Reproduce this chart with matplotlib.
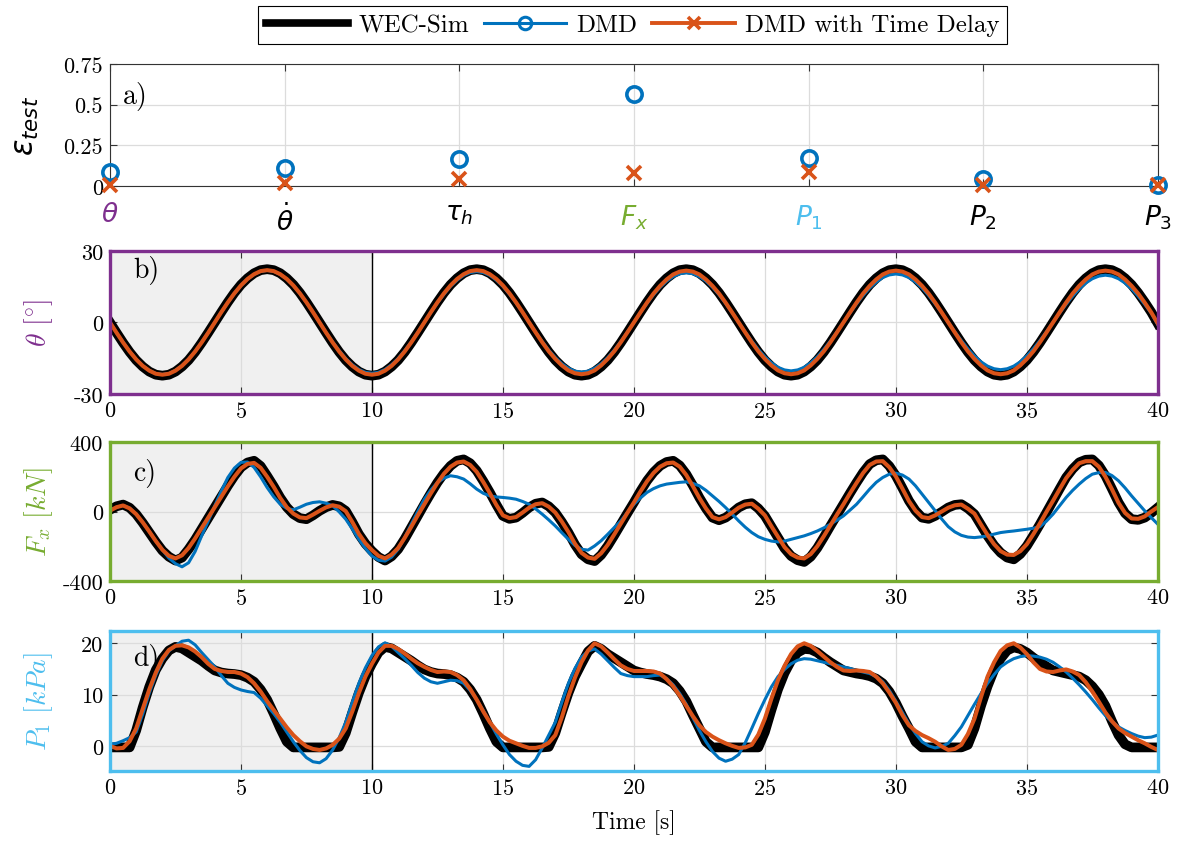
import numpy as np
import matplotlib
matplotlib.use("Agg")
import matplotlib.pyplot as plt
from matplotlib.lines import Line2D

plt.rcParams["font.family"] = ["cmr10", "DejaVu Serif"]
plt.rcParams["mathtext.fontset"] = "cm"
plt.rcParams["axes.unicode_minus"] = False
plt.rcParams["axes.formatter.use_mathtext"] = True

# ---- data ----
states = [r"$\theta$", r"$\dot{\theta}$", r"$\tau_h$", r"$F_x$", r"$P_1$", r"$P_2$", r"$P_3$"]
state_colors = ["#7E2F8E", "black", "black", "#77AC30", "#4DBEEE", "black", "black"]
err_dmd = [0.087, 0.108, 0.165, 0.565, 0.169, 0.040, 0.006]
err_dmd_td = [0.005, 0.016, 0.040, 0.081, 0.083, 0.004, 0.005]

# time axis of the series, one reading every 0.25 s
time = np.arange(0, 40.25, 0.25)

# pitch angle [deg]
theta_wec = [
    0, -4.3, -8.5, -12.4, -15.8, -18.5, -20.6, -21.9, -22.3, -21.9, -20.6, -18.5, -15.8, -12.4, -8.5, -4.3,
    0, 4.3, 8.5, 12.4, 15.8, 18.5, 20.6, 21.9, 22.3, 21.9, 20.6, 18.5, 15.8, 12.4, 8.5, 4.3,
    0, -4.3, -8.5, -12.4, -15.8, -18.5, -20.6, -21.9, -22.3, -21.9, -20.6, -18.5, -15.8, -12.4, -8.5, -4.3,
    0, 4.3, 8.5, 12.4, 15.8, 18.5, 20.6, 21.9, 22.3, 21.9, 20.6, 18.5, 15.8, 12.4, 8.5, 4.3,
    0, -4.3, -8.5, -12.4, -15.8, -18.5, -20.6, -21.9, -22.3, -21.9, -20.6, -18.5, -15.8, -12.4, -8.5, -4.3,
    0, 4.3, 8.5, 12.4, 15.8, 18.5, 20.6, 21.9, 22.3, 21.9, 20.6, 18.5, 15.8, 12.4, 8.5, 4.3,
    0, -4.3, -8.5, -12.4, -15.8, -18.5, -20.6, -21.9, -22.3, -21.9, -20.6, -18.5, -15.8, -12.4, -8.5, -4.3,
    0, 4.3, 8.5, 12.4, 15.8, 18.5, 20.6, 21.9, 22.3, 21.9, 20.6, 18.5, 15.8, 12.4, 8.5, 4.3,
    0, -4.3, -8.5, -12.4, -15.8, -18.5, -20.6, -21.9, -22.3, -21.9, -20.6, -18.5, -15.8, -12.4, -8.5, -4.3,
    0, 4.3, 8.5, 12.4, 15.8, 18.5, 20.6, 21.9, 22.3, 21.9, 20.6, 18.5, 15.8, 12.4, 8.5, 4.3,
    -0.5]
theta_dmd = [
    0, -4.3, -8.3, -12.1, -15.4, -18.1, -20.1, -21.4, -21.8, -21.4, -20.1, -18.1, -15.4, -12.1, -8.3, -4.3,
    0, 4.3, 8.3, 12.1, 15.4, 18.1, 20.1, 21.4, 21.8, 21.4, 20.1, 18.1, 15.4, 12.1, 8.3, 4.3,
    0, -4.2, -8.2, -11.8, -15.1, -17.7, -19.7, -20.9, -21.3, -20.9, -19.7, -17.7, -15.1, -11.8, -8.2, -4.2,
    0, 4.2, 8.2, 11.8, 15.1, 17.7, 19.7, 20.9, 21.3, 20.9, 19.7, 17.7, 15.1, 11.8, 8.2, 4.2,
    0, -4.1, -8.0, -11.6, -14.7, -17.3, -19.2, -20.4, -20.8, -20.4, -19.2, -17.3, -14.7, -11.6, -8.0, -4.1,
    0, 4.1, 8.0, 11.6, 14.7, 17.3, 19.2, 20.4, 20.8, 20.4, 19.2, 17.3, 14.7, 11.6, 8.0, 4.1,
    0, -4.0, -7.8, -11.3, -14.4, -16.9, -18.8, -19.9, -20.3, -19.9, -18.8, -16.9, -14.4, -11.3, -7.8, -4.0,
    0, 4.0, 7.8, 11.3, 14.4, 16.9, 18.8, 19.9, 20.3, 19.9, 18.8, 16.9, 14.4, 11.3, 7.8, 4.0,
    0, -3.9, -7.6, -11.0, -14.0, -16.5, -18.3, -19.4, -19.8, -19.4, -18.3, -16.5, -14.0, -11.0, -7.6, -3.9,
    0, 3.9, 7.6, 11.0, 14.0, 16.5, 18.3, 19.4, 19.8, 19.4, 18.3, 16.5, 14.0, 11.0, 7.6, 3.9,
    -1.0]
theta_td = [
    0, -4.3, -8.4, -12.2, -15.5, -18.2, -20.2, -21.5, -21.9, -21.5, -20.2, -18.2, -15.5, -12.2, -8.4, -4.3,
    0, 4.3, 8.4, 12.2, 15.5, 18.2, 20.2, 21.5, 21.9, 21.5, 20.2, 18.2, 15.5, 12.2, 8.4, 4.3,
    0, -4.3, -8.4, -12.2, -15.5, -18.2, -20.2, -21.5, -21.9, -21.5, -20.2, -18.2, -15.5, -12.2, -8.4, -4.3,
    0, 4.3, 8.4, 12.2, 15.5, 18.2, 20.2, 21.5, 21.9, 21.5, 20.2, 18.2, 15.5, 12.2, 8.4, 4.3,
    0, -4.2, -8.3, -12.1, -15.3, -18.0, -20.1, -21.3, -21.7, -21.3, -20.1, -18.0, -15.3, -12.1, -8.3, -4.2,
    0, 4.2, 8.3, 12.1, 15.3, 18.0, 20.1, 21.3, 21.7, 21.3, 20.1, 18.0, 15.3, 12.1, 8.3, 4.2,
    0, -4.2, -8.3, -12.1, -15.3, -18.0, -20.1, -21.3, -21.7, -21.3, -20.1, -18.0, -15.3, -12.1, -8.3, -4.2,
    0, 4.2, 8.3, 12.1, 15.3, 18.0, 20.1, 21.3, 21.7, 21.3, 20.1, 18.0, 15.3, 12.1, 8.3, 4.2,
    0, -4.2, -8.3, -12.1, -15.3, -18.0, -20.1, -21.3, -21.7, -21.3, -20.1, -18.0, -15.3, -12.1, -8.3, -4.2,
    0, 4.2, 8.3, 12.1, 15.3, 18.0, 20.1, 21.3, 21.7, 21.3, 20.1, 18.0, 15.3, 12.1, 8.3, 4.2,
    -0.5]

# surge force [kN]
fx_wec = [
    10, 30, 40, 22, -15, -65, -120, -175,
    -225, -260, -282, -265, -217, -162, -100, -38,
    23, 86, 148, 205, 254, 282, 292, 262,
    205, 145, 80, 25, -15, -38, -44, -22,
    4, 25, 38, 30, 4, -60, -130, -185,
    -227, -262, -282, -258, -217, -158, -92, -25,
    42, 106, 167, 220, 263, 292, 300, 278,
    235, 175, 110, 40, -25, -42, -35, -8,
    23, 45, 52, 30, -6, -60, -121, -190,
    -246, -275, -285, -250, -198, -137, -73, -10,
    52, 117, 177, 226, 263, 285, 292, 265,
    215, 150, 80, 18, -35, -50, -35, -8,
    23, 42, 48, 18, -25, -88, -150, -212,
    -256, -280, -290, -260, -210, -148, -83, -20,
    42, 106, 167, 225, 273, 295, 300, 262,
    206, 135, 62, 5, -35, -42, -25, -2,
    23, 38, 42, 18, -15, -78, -140, -195,
    -237, -265, -275, -245, -198, -137, -73, -5,
    62, 130, 196, 245, 283, 298, 300, 265,
    206, 130, 52, -10, -44, -48, -35, -8,
    23]
fx_dmd = [
    5, 25, 35, 20, -15, -62, -115, -170,
    -220, -268, -300, -318, -295, -230, -140, -55,
    33, 118, 196, 250, 283, 285, 254, 200,
    138, 85, 42, 18, 10, 25, 42, 52,
    56, 48, 33, -2, -44, -100, -160, -212,
    -256, -280, -285, -262, -217, -150, -73, 0,
    71, 125, 167, 192, 206, 200, 187, 160,
    129, 105, 90, 84, 81, 77, 71, 58,
    42, 15, -15, -48, -83, -122, -160, -195,
    -217, -222, -198, -168, -131, -92, -54, -6,
    42, 78, 110, 132, 148, 158, 163, 168,
    171, 162, 148, 122, 90, 58, 23, -15,
    -54, -90, -121, -145, -160, -170, -175, -170,
    -160, -150, -140, -127, -112, -94, -73, -50,
    -25, 8, 42, 85, 129, 168, 196, 215,
    221, 210, 187, 148, 100, 52, 4, -43,
    -87, -117, -137, -147, -150, -146, -140, -130,
    -121, -116, -112, -107, -102, -96, -87, -55,
    -15, 33, 81, 122, 158, 190, 215, 224,
    225, 207, 177, 136, 90, 47, 4, -35,
    -73]
fx_td = [
    5, 25, 35, 18, -15, -62, -115, -170,
    -220, -255, -270, -252, -210, -155, -95, -35,
    25, 85, 145, 200, 248, 274, 280, 252,
    200, 142, 78, 25, -12, -34, -38, -18,
    4, 24, 36, 28, 2, -60, -128, -182,
    -222, -255, -270, -248, -210, -152, -88, -22,
    42, 105, 165, 218, 258, 282, 288, 268,
    228, 170, 106, 38, -22, -38, -32, -6,
    22, 42, 48, 28, -6, -58, -118, -185,
    -238, -265, -272, -240, -192, -132, -70, -8,
    52, 115, 174, 222, 258, 278, 282, 258,
    210, 146, 78, 18, -32, -45, -32, -6,
    22, 40, 45, 16, -22, -85, -145, -205,
    -245, -265, -270, -245, -200, -142, -80, -18,
    42, 105, 165, 222, 268, 288, 290, 255,
    202, 132, 60, 5, -32, -38, -22, 0,
    22, 36, 40, 16, -12, -75, -135, -188,
    -228, -248, -250, -228, -188, -130, -68, -2,
    62, 128, 192, 240, 278, 290, 290, 258,
    200, 128, 50, -8, -40, -42, -28, 0,
    25]

# chamber pressure [kPa]
p1_wec = [
    -0.3, -0.3, -0.3, -0.3, 3.0, 7.5, 11.5, 14.8,
    17.0, 18.6, 19.3, 19.0, 18.2, 17.4, 16.6, 15.6,
    14.7, 14.3, 14.1, 14.0, 13.8, 13.3, 12.5, 11.0,
    9.0, 6.3, 3.4, 0.8, -0.3, -0.3, -0.3, -0.3,
    -0.3, -0.3, -0.3, -0.2, 2.5, 6.5, 10.3, 13.5,
    16.0, 18.2, 19.3, 19.0, 18.2, 17.4, 16.6, 15.7,
    14.9, 14.4, 14.1, 14.0, 13.8, 13.3, 12.5, 11.0,
    9.0, 6.3, 3.4, 0.8, -0.3, -0.3, -0.3, -0.3,
    -0.3, -0.3, -0.3, -0.2, 2.5, 6.5, 10.3, 13.5,
    16.0, 18.4, 19.5, 18.9, 17.9, 17.1, 16.3, 15.5,
    14.7, 14.3, 14.0, 13.8, 13.5, 13.0, 12.2, 10.7,
    8.7, 6.0, 3.4, 0.8, -0.3, -0.3, -0.3, -0.3,
    -0.3, -0.3, -0.3, -0.3, 2.7, 7.0, 11.0, 14.2,
    16.6, 18.2, 18.9, 18.8, 18.2, 17.2, 16.3, 15.5,
    14.7, 14.4, 14.1, 13.9, 13.6, 13.1, 12.2, 10.6,
    8.4, 5.8, 3.4, 0.8, -0.3, -0.3, -0.3, -0.3,
    -0.3, -0.3, -0.3, 0.2, 3.4, 7.8, 11.6, 14.8,
    17.0, 18.6, 19.2, 18.9, 18.2, 17.2, 16.3, 15.5,
    14.7, 14.4, 14.1, 13.8, 13.5, 12.8, 11.6, 10.0,
    7.8, 4.8, 2.1, 0.3, -0.3, -0.3, -0.3, -0.3,
    -0.3]
p1_dmd = [
    0.3, 0.5, 1.0, 1.6, 2.7, 6.2, 10.3, 13.8,
    16.6, 18.5, 19.5, 20.4, 20.6, 19.7, 18.2, 16.8,
    15.4, 13.7, 12.2, 11.4, 10.9, 10.6, 10.4, 9.3,
    7.8, 6.3, 4.6, 2.7, 0.8, -0.9, -2.3, -3.1,
    -3.3, -2.5, -0.8, 1.6, 4.6, 8.5, 12.2, 15.2,
    17.6, 19.3, 20.1, 19.4, 18.2, 17.0, 15.7, 14.3,
    13.2, 12.5, 12.2, 12.5, 12.8, 12.7, 12.2, 10.8,
    9.0, 6.9, 4.6, 2.3, 0.2, -1.7, -3.0, -3.8,
    -4.0, -2.7, -0.4, 2.1, 4.6, 8.5, 12.2, 15.1,
    17.3, 18.5, 18.9, 17.9, 16.6, 15.3, 14.1, 13.7,
    13.5, 13.5, 13.5, 13.7, 13.8, 13.1, 11.9, 10.2,
    8.1, 5.5, 3.0, 0.8, -1.1, -2.4, -3.0, -2.6,
    -1.7, 0.6, 3.4, 6.3, 9.0, 11.5, 13.5, 14.9,
    16.0, 16.7, 17.0, 16.9, 16.6, 16.3, 16.0, 15.7,
    15.4, 15.1, 14.7, 14.4, 14.1, 13.5, 12.5, 10.8,
    8.7, 6.5, 4.3, 2.4, 0.8, 0.0, -0.4, -0.1,
    0.5, 2.0, 3.7, 5.9, 8.1, 10.2, 12.2, 13.9,
    15.4, 16.3, 17.0, 17.4, 17.6, 17.5, 17.3, 16.9,
    16.3, 15.4, 14.4, 13.2, 11.9, 10.5, 9.0, 7.4,
    5.9, 4.7, 3.7, 3.0, 2.4, 1.9, 1.6, 1.7,
    2.1]
p1_td = [
    0.0, -0.5, -0.4, 0.9, 3.4, 7.2, 11.0, 14.3,
    17.0, 18.7, 19.5, 19.6, 19.2, 18.4, 17.3, 16.0,
    15.0, 14.6, 14.4, 14.4, 14.1, 13.4, 12.2, 10.6,
    8.7, 7.0, 5.3, 3.6, 2.1, 0.9, -0.1, -0.6,
    -0.8, -0.5, 0.2, 1.4, 3.4, 6.7, 10.3, 13.5,
    16.0, 18.2, 19.5, 19.5, 18.9, 18.0, 17.0, 16.1,
    15.4, 14.8, 14.4, 14.5, 14.4, 13.8, 12.8, 11.1,
    9.0, 6.7, 4.6, 3.0, 1.8, 1.0, 0.5, 0.0,
    -0.4, -0.4, -0.1, 0.6, 2.1, 5.6, 9.7, 13.3,
    16.3, 18.6, 20.0, 19.4, 18.2, 16.9, 15.7, 15.0,
    14.6, 14.6, 14.6, 14.5, 14.1, 13.0, 11.6, 9.8,
    7.8, 5.8, 4.0, 2.7, 1.8, 1.1, 0.5, 0.0,
    -0.4, -0.3, 0.2, 2.2, 5.3, 9.2, 12.8, 15.6,
    17.9, 19.4, 20.0, 19.5, 18.5, 17.4, 16.3, 15.4,
    14.7, 14.6, 14.7, 14.6, 14.4, 13.5, 12.2, 10.4,
    8.4, 6.0, 4.0, 2.9, 2.1, 1.5, 0.8, -0.1,
    -0.8, -0.6, 0.2, 2.3, 5.3, 9.5, 13.5, 16.3,
    18.5, 19.6, 20.0, 19.2, 17.9, 16.3, 15.0, 14.5,
    14.4, 14.7, 14.9, 14.5, 13.8, 12.4, 10.6, 8.6,
    6.5, 4.8, 3.4, 2.5, 1.8, 1.1, 0.5, -0.2,
    -0.8]

# ---- style ----
C_WEC = "black"
C_DMD = "#0072BD"
C_TD = "#D95319"
GRID = "#DCDCDC"
LEFT, WIDTH = 0.0932, 0.888

fig = plt.figure(figsize=(11.8, 8.45), dpi=100)


def style_ticks(ax):
    ax.tick_params(direction="in", top=True, right=True, length=5, width=0.8,
                   color="#333333", labelsize=16, pad=5)
    ax.grid(True, color=GRID, linewidth=0.9)
    ax.set_axisbelow(True)


# ---- panel a ----
ax_a = fig.add_axes([LEFT, 0.779, WIDTH, 0.144])
xs = np.arange(1, len(states) + 1)
ax_a.plot(xs, err_dmd, linestyle="none", marker="o", markersize=11, markerfacecolor="none",
          markeredgecolor=C_DMD, markeredgewidth=2.6, clip_on=False, zorder=3)
ax_a.plot(xs, err_dmd_td, linestyle="none", marker="x", markersize=10,
          markeredgecolor=C_TD, markeredgewidth=2.6, clip_on=False, zorder=4)
ax_a.set_xlim(1, 7)
ax_a.set_ylim(0, 0.75)
ax_a.set_yticks([0, 0.25, 0.5, 0.75])
ax_a.set_yticklabels(["0", "0.25", "0.5", "0.75"])
ax_a.set_xticks(xs)
ax_a.set_xticklabels(states, math_fontfamily="dejavusans")
for lab, c in zip(ax_a.get_xticklabels(), state_colors):
    lab.set_color(c)
style_ticks(ax_a)
ax_a.tick_params(axis="x", pad=12, labelsize=19)
for sp in ax_a.spines.values():
    sp.set_linewidth(0.8)
    sp.set_color("#333333")
ax_a.set_ylabel(r"$\epsilon_{test}$", math_fontfamily="dejavusans", fontsize=22)
ax_a.yaxis.set_label_coords(-0.066, 0.5)
ax_a.text(0.012, 0.74, "a)", transform=ax_a.transAxes, fontsize=20, va="center")

# ---- panels b, c, d ----
panels = [
    ([LEFT, 0.5325, WIDTH, 0.1695], theta_wec, theta_dmd, theta_td, (-30, 30),
     [-30, 0, 30], ["-30", "0", "30"], "#7E2F8E", r"$\theta\ [^{\circ}]$", "b)", 0.87),
    ([LEFT, 0.3112, WIDTH, 0.1645], fx_wec, fx_dmd, fx_td, (-400, 400),
     [-400, 0, 400], ["-400", "0", "400"], "#77AC30", r"$F_x\ [kN]$", "c)", 0.78),
    ([LEFT, 0.0864, WIDTH, 0.1657], p1_wec, p1_dmd, p1_td, (-4.9, 22.4),
     [0, 10, 20], ["0", "10", "20"], "#4DBEEE", r"$P_1\ [kPa]$", "d)", 0.81),
]

axes = []
for pos, y_wec, y_dmd, y_td, ylim, yt, ytl, fc, ylab, tag, tag_y in panels:
    ax = fig.add_axes(pos)
    ax.axvspan(0, 10, color="#F0F0F0", zorder=0, linewidth=0)
    ax.axvline(10, color="black", linewidth=1.0, zorder=1)
    ax.plot(time, y_wec, color=C_WEC, linewidth=7.0, zorder=2, solid_joinstyle="round")
    ax.plot(time, y_dmd, color=C_DMD, linewidth=2.2, zorder=3, solid_joinstyle="round")
    ax.plot(time, y_td, color=C_TD, linewidth=2.9, zorder=4, solid_joinstyle="round")
    ax.set_xlim(0, 40)
    ax.set_ylim(*ylim)
    ax.set_xticks(np.arange(0, 41, 5))
    ax.set_yticks(yt)
    ax.set_yticklabels(ytl)
    style_ticks(ax)
    for sp in ax.spines.values():
        sp.set_color(fc)
        sp.set_linewidth(2.4)
        sp.set_zorder(5)
    ax.set_ylabel(ylab, color=fc, fontsize=20)
    ax.yaxis.set_label_coords(-0.052, 0.5)
    ax.text(0.022, tag_y, tag, transform=ax.transAxes, fontsize=20, va="center", zorder=6)
    axes.append(ax)

axes[-1].set_xlabel("Time [s]", fontsize=17, labelpad=8)

# ---- legend ----
handles = [
    Line2D([], [], color=C_WEC, linewidth=5.5),
    Line2D([], [], color=C_DMD, linewidth=2.2, marker="o", markersize=9,
           markerfacecolor="none", markeredgewidth=2.2),
    Line2D([], [], color=C_TD, linewidth=2.8, marker="x", markersize=9, markeredgewidth=2.6),
]
leg = fig.legend(handles, ["WEC-Sim", "DMD", "DMD with Time Delay"], loc="upper center",
                 bbox_to_anchor=(0.536, 1.006), ncol=3, fontsize=18, frameon=True,
                 fancybox=False, edgecolor="black", framealpha=1, handlelength=3.3,
                 columnspacing=0.6, handletextpad=0.4, borderpad=0.3)
leg.get_frame().set_linewidth(0.8)

fig.savefig("out.png", dpi=100)
